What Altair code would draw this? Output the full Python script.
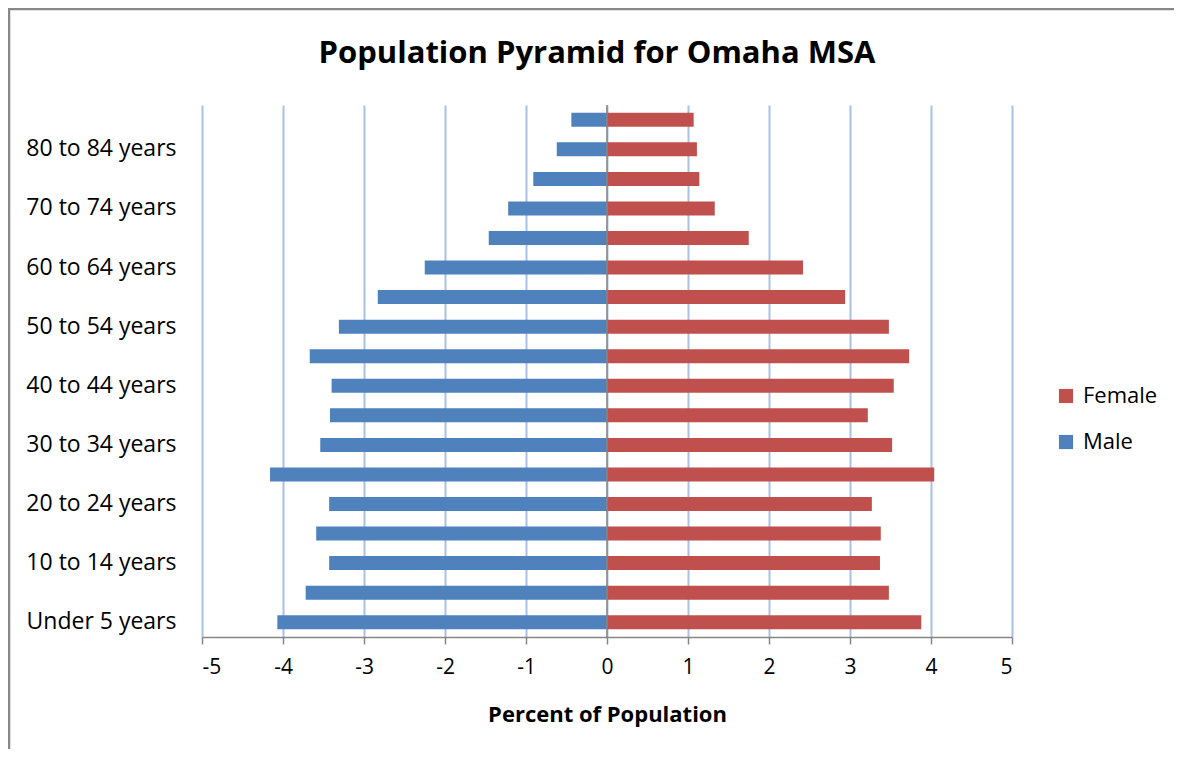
import altair as alt
import pandas as pd

ages = ["Under 5 years", "5 to 9 years", "10 to 14 years", "15 to 19 years",
        "20 to 24 years", "25 to 29 years", "30 to 34 years", "35 to 39 years",
        "40 to 44 years", "45 to 49 years", "50 to 54 years", "55 to 59 years",
        "60 to 64 years", "65 to 69 years", "70 to 74 years", "75 to 79 years",
        "80 to 84 years", "85 years and over"]
male = [4.07, 3.72, 3.43, 3.59, 3.43, 4.16, 3.54, 3.42, 3.40, 3.67,
        3.31, 2.83, 2.25, 1.46, 1.22, 0.91, 0.62, 0.44]
female = [3.88, 3.48, 3.37, 3.38, 3.27, 4.04, 3.52, 3.22, 3.54, 3.73,
          3.48, 2.94, 2.42, 1.75, 1.33, 1.14, 1.11, 1.07]
labeled = ages[0::2]
x_ticks = [-5, -4, -3, -2, -1, 0, 1, 2, 3, 4, 5]

rows = []
for a, m, f in zip(ages, male, female):
    rows.append({"age": a, "sex": "Male", "pct": -m})
    rows.append({"age": a, "sex": "Female", "pct": f})
df = pd.DataFrame(rows)

W, H = 810, 532
FONT = "Open Sans"

bars = alt.Chart(df).mark_bar(size=14).encode(
    x=alt.X("pct:Q", scale=alt.Scale(domain=[-5, 5], nice=False),
            axis=alt.Axis(values=x_ticks, title="Percent of Population",
                          labelExpr="datum.value + ''",
                          grid=True, gridColor="#A9C1E6", gridWidth=2,
                          domainColor="#868686", domainWidth=1.5,
                          tickColor="#868686", tickSize=7, tickWidth=1.5,
                          labelFontSize=21, labelPadding=12, labelColor="#000000",
                          labelFont=FONT, titleFont=FONT, titleFontSize=22,
                          titleFontWeight="bold", titleColor="#000000",
                          titlePadding=27)),
    y=alt.Y("age:N", sort=list(reversed(ages)),
            scale=alt.Scale(paddingInner=0, paddingOuter=0),
            axis=alt.Axis(values=labeled, title=None, domain=False, ticks=False,
                          labelFontSize=23, labelFont=FONT, labelColor="#000000",
                          labelPadding=26, grid=False)),
    color=alt.Color("sex:N",
                    scale=alt.Scale(domain=["Female", "Male"],
                                    range=["#C0504D", "#4F81BD"]),
                    legend=alt.Legend(title=None, orient="none", legendX=853,
                                      legendY=280, symbolType="square",
                                      symbolSize=200, labelFontSize=22,
                                      labelFont=FONT, labelColor="#000000",
                                      rowPadding=24, symbolStrokeWidth=0,
                                      labelOffset=6)),
)

zero = alt.Chart(pd.DataFrame({"z": [0]})).mark_rule(color="#868686", strokeWidth=1.5).encode(
    x="z:Q")

frame_left = alt.Chart(pd.DataFrame({"a": [0]})).mark_rule(color="#888888", strokeWidth=2.5).encode(
    x=alt.value(-193), y=alt.value(-97), y2=alt.value(H + 200))
frame_top = alt.Chart(pd.DataFrame({"a": [0]})).mark_rule(color="#888888", strokeWidth=2.5).encode(
    x=alt.value(-194), x2=alt.value(W + 200), y=alt.value(-96))

chart = alt.layer(bars, zero, frame_left, frame_top).properties(
    width=W, height=H,
    title=alt.TitleParams("Population Pyramid for Omaha MSA", fontSize=31,
                          font=FONT, fontWeight="bold", color="#000000",
                          anchor="middle", offset=-63, dx=-10),
    padding={"left": 194, "top": 97, "right": 162, "bottom": 112},
    autosize=alt.AutoSizeParams(type="none"),
).configure_view(stroke=None).configure_axis(gridOpacity=1)

chart.save("out.html", embed_options={"renderer": "svg", "actions": False})
